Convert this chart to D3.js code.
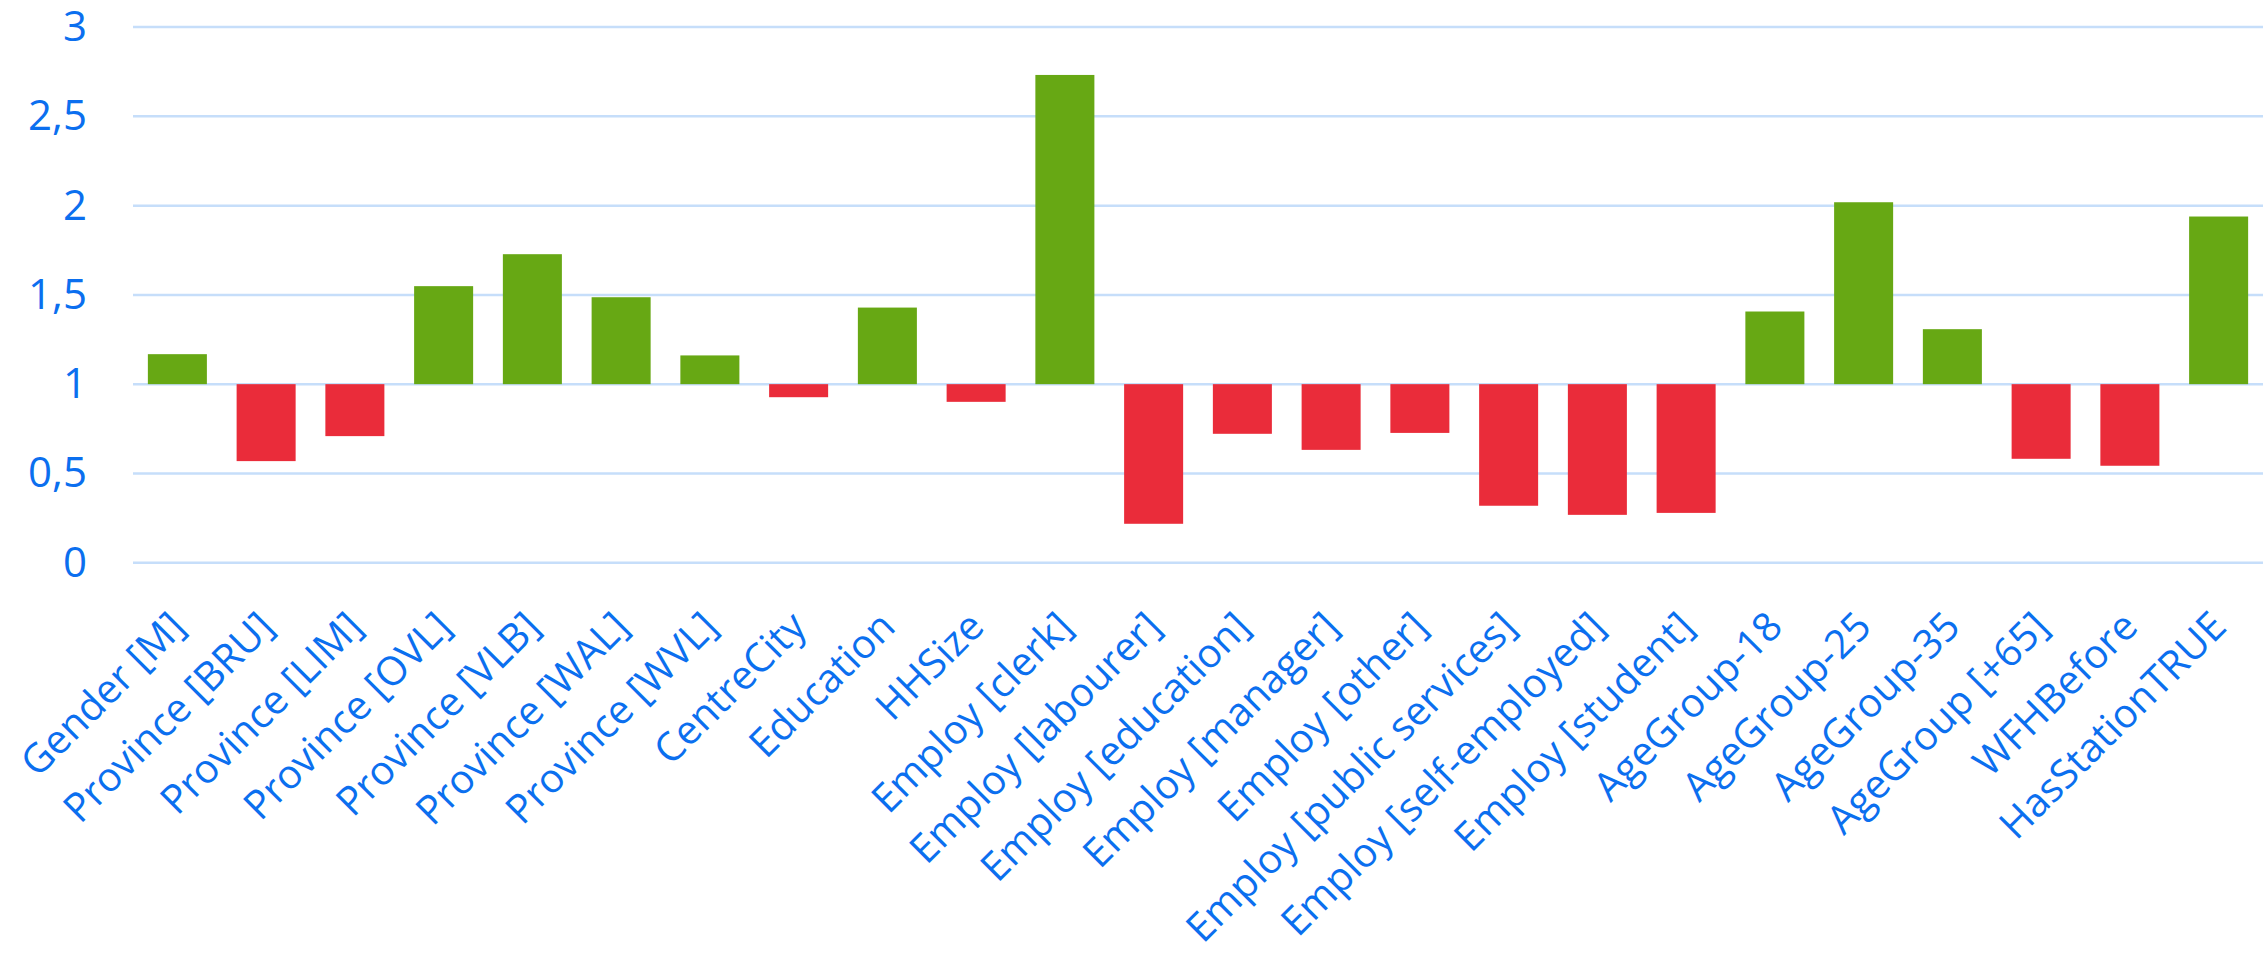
<!DOCTYPE html>
<html>
<head>
<meta charset="utf-8">
<script src="https://cdn.jsdelivr.net/npm/d3@7"></script>
<style>
  body { margin: 0; background: #fff; }
  svg text { font-family: "Open Sans", "Noto Sans", sans-serif; }
</style>
</head>
<body>
<div id="chart"></div>
<script>
var width = 2267;
var height = 954;

var categories = ["Gender [M]", "Province [BRU]", "Province [LIM]", "Province [OVL]",
    "Province [VLB]", "Province [WAL]", "Province [WVL]", "CentreCity", "Education",
    "HHSize", "Employ [clerk]", "Employ [labourer]", "Employ [education]",
    "Employ [manager]", "Employ [other]", "Employ [public services]",
    "Employ [self-employed]", "Employ [student]", "AgeGroup-18", "AgeGroup-25",
    "AgeGroup-35", "AgeGroup [+65]", "WFHBefore", "HasStationTRUE"];
var values = [1.168, 0.569, 0.709, 1.549, 1.728, 1.487, 1.161, 0.927, 1.429,
    0.901, 2.732, 0.218, 0.722, 0.632, 0.727, 0.319, 0.268, 0.279, 1.407,
    2.019, 1.308, 0.582, 0.543, 1.939];
var yTicks = [0, 0.5, 1, 1.5, 2, 2.5, 3];
var baseline = 1;

var data = categories.map((c, i) => ({ name: c, value: values[i] }));

var svg = d3.select("#chart")
    .append("svg")
    .attr("width", width)
    .attr("height", height);

var x = d3.scaleBand()
    .domain(categories)
    .range([133, 2263])
    .paddingInner(0.335)
    .paddingOuter(0.1675);

var y = d3.scaleLinear()
    .domain([0, 3])
    .range([562.7, 27.1]);

// gridlines
svg.append("g")
    .attr("class", "grid")
    .selectAll("line")
    .data(yTicks)
    .enter()
    .append("line")
        .attr("x1", 133)
        .attr("x2", 2263)
        .attr("y1", d => y(d))
        .attr("y2", d => y(d))
        .style("stroke", "#c6defa")
        .style("stroke-width", 2.5);

// y axis labels
var yAxis = d3.axisLeft(y)
    .tickValues(yTicks)
    .tickSize(0)
    .tickPadding(0)
    .tickFormat(d => String(d).replace(".", ","));

svg.append("g")
    .attr("transform", "translate(87,0)")
    .call(yAxis)
    .call(g => g.select(".domain").remove())
    .selectAll("text")
        .style("font-family", '"Open Sans", "Noto Sans", sans-serif')
        .style("font-size", "42px")
        .style("fill", "#0b6fef");

// bars, drawn from the 1 line
svg.append("g")
    .selectAll("rect")
    .data(data)
    .enter()
    .append("rect")
        .attr("x", d => x(d.name))
        .attr("width", x.bandwidth())
        .attr("y", d => y(Math.max(d.value, baseline)))
        .attr("height", d => Math.abs(y(d.value) - y(baseline)))
        .style("fill", d => d.value >= baseline ? "#67a814" : "#ea2c3a");

// rotated category labels
var xAxis = d3.axisBottom(x)
    .tickSize(0)
    .tickPadding(0);

svg.append("g")
    .attr("transform", "translate(0,619)")
    .call(xAxis)
    .call(g => g.select(".domain").remove())
    .selectAll("text")
        .attr("y", 0)
        .attr("dy", "0.35em")
        .attr("transform", "rotate(-45)")
        .style("text-anchor", "end")
        .style("font-family", '"Open Sans", "Noto Sans", sans-serif')
        .style("font-size", "40px")
        .style("fill", "#0b6fef");
</script>
</body>
</html>
